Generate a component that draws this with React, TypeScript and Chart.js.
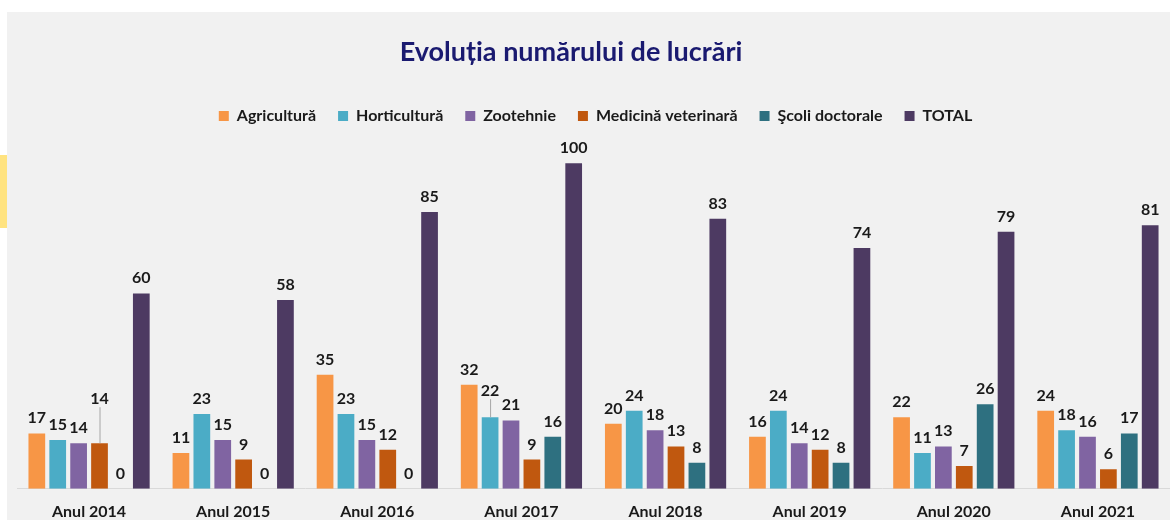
import React, { useEffect, useRef } from "react";
import { Chart, registerables } from "chart.js";

Chart.register(...registerables);

const categories = ["Anul 2014", "Anul 2015", "Anul 2016", "Anul 2017", "Anul 2018", "Anul 2019", "Anul 2020", "Anul 2021"];
const seriesNames = ["Agricultură", "Horticultură", "Zootehnie", "Medicină veterinară", "Şcoli doctorale", "TOTAL"];
const agricultura = [17, 11, 35, 32, 20, 16, 22, 24];
const horticultura = [15, 23, 23, 22, 24, 24, 11, 18];
const zootehnie = [14, 15, 15, 21, 18, 14, 13, 16];
const medicina = [14, 9, 12, 9, 13, 12, 7, 6];
const scoli = [0, 0, 0, 16, 8, 8, 26, 17];
const total = [60, 58, 85, 100, 83, 74, 79, 81];
const seriesColors = ["#f79646", "#4bacc6", "#8064a2", "#c0580f", "#2e7080", "#4d3a62"];
const titleText = "Evoluția numărului de lucrări";

// extra lift (px) for labels drawn with a leader line: "datasetIndex-dataIndex"
const leaderLifts: Record<string, number> = { "3-0": 29, "1-3": 11 };

export default function App() {
  const ref = useRef<HTMLCanvasElement>(null);

  useEffect(() => {
    if (!ref.current) return;
    const seriesData = [agricultura, horticultura, zootehnie, medicina, scoli, total];

    const titlePlugin = {
      id: "customTitle",
      beforeDraw(chart: any) {
        const ctx = chart.ctx;
        ctx.save();
        ctx.font = "bold 27px Lato";
        ctx.fillStyle = "#1a1a70";
        ctx.textAlign = "center";
        ctx.textBaseline = "middle";
        ctx.fillText(titleText, 564, 40);
        ctx.restore();
      },
    };

    const labelPlugin = {
      id: "valueLabels",
      afterDatasetsDraw(chart: any) {
        const ctx = chart.ctx;
        ctx.save();
        ctx.font = "bold 16px Lato";
        ctx.fillStyle = "#1a1a1a";
        ctx.textAlign = "center";
        ctx.textBaseline = "alphabetic";
        chart.data.datasets.forEach((ds: any, di: number) => {
          const meta = chart.getDatasetMeta(di);
          meta.data.forEach((el: any, i: number) => {
            const v = ds.data[i];
            const lift = leaderLifts[`${di}-${i}`] || 0;
            const baseY = el.y - 10 - lift;
            if (lift) {
              ctx.save();
              ctx.strokeStyle = "#a6a6a6";
              ctx.lineWidth = 1;
              ctx.beginPath();
              ctx.moveTo(el.x + 0.5, baseY + 3);
              ctx.lineTo(el.x + 0.5, el.y);
              ctx.stroke();
              ctx.restore();
            }
            ctx.fillText(String(v), el.x, baseY);
          });
        });
        ctx.restore();
      },
    };

    const chart = new Chart(ref.current, {
      type: "bar",
      data: {
        labels: categories,
        datasets: seriesNames.map((name, i) => ({
          label: name,
          data: seriesData[i],
          backgroundColor: seriesColors[i],
          borderWidth: 0,
          barPercentage: 0.8,
          categoryPercentage: 0.87,
        })),
      },
      options: {
        responsive: false,
        maintainAspectRatio: false,
        animation: false,
        layout: { padding: { top: 74, left: 10, right: -4, bottom: -14 } },
        plugins: {
          title: { display: false },
          tooltip: { enabled: false },
          legend: {
            display: true,
            position: "top",
            labels: {
              boxWidth: 10,
              boxHeight: 10,
              padding: 22,
              color: "#1a1a1a",
              font: { family: "Lato", size: 16, weight: "bold" },
            },
          },
        },
        scales: {
          x: {
            grid: { display: false, drawTicks: false },
            border: { display: true, color: "#d9d9d9", width: 1 },
            ticks: { padding: 13, color: "#1a1a1a", font: { family: "Lato", size: 16, weight: "bold" } },
          },
          y: { display: false, min: 0, max: 109 },
        },
      },
      plugins: [titlePlugin, labelPlugin],
    });
    return () => chart.destroy();
  }, []);

  return (
    <div style={{ position: "fixed", left: 0, top: 0, width: 1170, height: 520, background: "#ffffff", overflow: "hidden" }}>
      <div style={{ position: "absolute", left: 0, top: 155, width: 7, height: 73, background: "#ffe380" }} />
      <div style={{ position: "absolute", left: 7, top: 12, width: 1163, height: 508, background: "#f1f1f1" }}>
        <canvas ref={ref} width={1163} height={508} style={{ display: "block", width: 1163, height: 508 }} />
      </div>
    </div>
  );
}
